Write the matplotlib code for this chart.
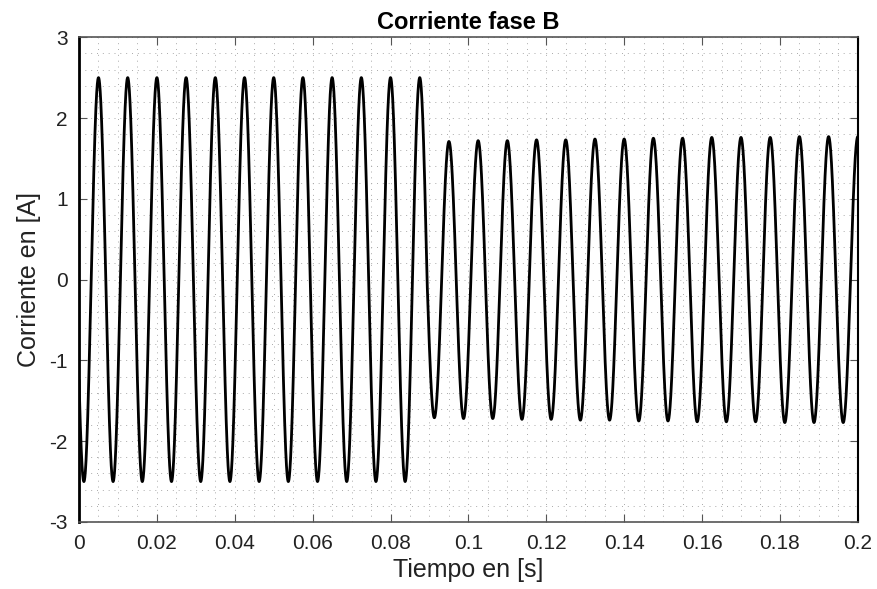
import numpy as np
import matplotlib
matplotlib.use('Agg')
import matplotlib.pyplot as plt
from matplotlib.ticker import MultipleLocator

# values
period_s = 0.0075          # one cycle of the current
first_peak_s = 0.005       # time of the first positive peak
t_end = 0.2
# amplitude of every cycle (cycle starts at a falling zero crossing)
cycle_amps = [2.5, 2.5, 2.5, 2.5, 2.5, 2.5, 2.5, 2.5, 2.5, 2.5, 2.5, 2.5,
              1.71, 1.72, 1.72, 1.73, 1.73, 1.74, 1.74, 1.75, 1.75,
              1.76, 1.76, 1.76, 1.77, 1.77, 1.77]
x_ticks = [0, 0.02, 0.04, 0.06, 0.08, 0.1, 0.12, 0.14, 0.16, 0.18, 0.2]
x_labels = ['0', '0.02', '0.04', '0.06', '0.08', '0.1', '0.12', '0.14', '0.16', '0.18', '0.2']
y_ticks = [-3, -2, -1, 0, 1, 2, 3]

plt.rcParams['font.family'] = ['Liberation Sans', 'DejaVu Sans']
plt.rcParams['axes.unicode_minus'] = False

t = np.linspace(0, t_end, 6000)
phase = (t - first_peak_s) / period_s
idx = np.floor(phase - 0.25).astype(int) + 1
amp = np.take(cycle_amps, np.clip(idx, 0, len(cycle_amps) - 1))
current = amp * np.cos(2 * np.pi * phase)

fig = plt.figure(figsize=(8.78, 5.89), dpi=100)
ax = fig.add_axes([0.09, 0.1138, 0.887, 0.823])

ax.plot(t, current, color='black', linewidth=2.0)

ax.set_xlim(0, t_end)
ax.set_ylim(-3, 3)
ax.set_xticks(x_ticks)
ax.set_xticklabels(x_labels)
ax.set_yticks(y_ticks)
ax.xaxis.set_minor_locator(MultipleLocator(0.005))
ax.yaxis.set_minor_locator(MultipleLocator(0.2))

ax.grid(True, which='both', linestyle=(0, (1, 5)), color='#aaaaaa', linewidth=0.7)
ax.tick_params(which='major', direction='in', length=6, width=0.8, color='#555555',
               top=True, right=True, labelsize=15, labelcolor='#222222')
ax.tick_params(axis='x', which='major', pad=9)
ax.tick_params(axis='y', which='major', pad=8)
ax.tick_params(which='minor', length=0, top=True, right=True)

for side in ['top', 'bottom']:
    ax.spines[side].set_color('#555555')
    ax.spines[side].set_linewidth(1.2)
ax.spines['right'].set_color('black')
ax.spines['right'].set_linewidth(1.5)
ax.spines['left'].set_color('black')
ax.spines['left'].set_linewidth(2.0)

ax.set_title('Corriente fase B', fontsize=17, fontweight='bold', pad=6)
ax.set_xlabel('Tiempo en [s]', fontsize=18, color='#222222', labelpad=3)
ax.set_ylabel('Corriente en [A]', fontsize=18, color='#222222', labelpad=6)

fig.savefig('out.png', dpi=100)
